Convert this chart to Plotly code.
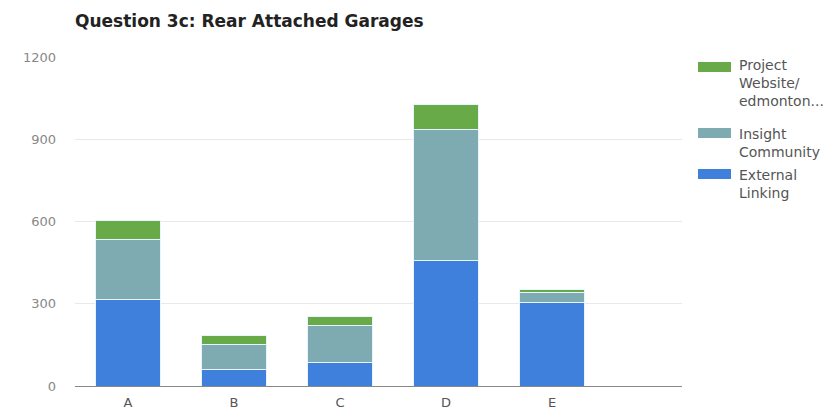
import plotly.graph_objects as go

categories = ["A", "B", "C", "D", "E"]
external_linking = [317, 61, 86, 458, 305]
insight_community = [219, 92, 134, 478, 35]
project_website = [69, 30, 34, 92, 13]
y_ticks = [0, 300, 600, 900, 1200]

c_ext = "#3f80dd"
c_ins = "#7eaab2"
c_prj = "#67aa47"

W, H = 828, 403  # page body has an 8px margin
L, T, B = 67, 49, 25
PW = 607
R = W - L - PW
PH = H - T - B

fig = go.Figure()
for name, vals, col in [("External Linking", external_linking, c_ext),
                        ("Insight Community", insight_community, c_ins),
                        ("Project Website/edmonton...", project_website, c_prj)]:
    fig.add_trace(go.Bar(x=categories, y=vals, name=name,
                         marker=dict(color=col, line=dict(color="#e8f4ff", width=1)),
                         width=0.62, showlegend=False))

fig.update_layout(
    barmode="stack",
    width=W, height=H,
    margin=dict(l=L, r=R, t=T, b=B, autoexpand=False),
    paper_bgcolor="white", plot_bgcolor="white",
    font=dict(family="DejaVu Sans, sans-serif"),
    title=dict(text="<b>Question 3c: Rear Attached Garages</b>", x=(75 - 8) / W, xanchor="left",
               y=1 - (21 - 8) / H, yanchor="middle", font=dict(size=17, color="#222")),
    xaxis=dict(range=[-0.5, 5.226], showgrid=False, showline=True, linecolor="#888", linewidth=1,
               tickfont=dict(size=13, color="#555"), ticks="", ticklabelstandoff=4,
               automargin=False),
    yaxis=dict(range=[0, 1200], tickvals=y_ticks, showgrid=True, gridcolor="#e8e8e8",
               tickfont=dict(size=13, color="#888"), zeroline=False, ticklabelstandoff=18,
               automargin=False),
)


def xp(X):
    return (X - 75) / PW


def yp(Y):
    return (386 - Y) / PH


swatches = [(c_prj, 67), (c_ins, 133), (c_ext, 174)]
for col, yc in swatches:
    fig.add_shape(type="rect", xref="paper", yref="paper",
                  x0=xp(698), x1=xp(731), y0=yp(yc + 5), y1=yp(yc - 5),
                  fillcolor=col, line=dict(width=0))

legend_lines = [("Project", 65), ("Website/", 83), ("edmonton...", 101),
                ("Insight", 134), ("Community", 152),
                ("External", 175), ("Linking", 193)]
for text, yc in legend_lines:
    fig.add_annotation(xref="paper", yref="paper", x=xp(737), y=yp(yc),
                       xanchor="left", yanchor="middle", align="left", showarrow=False,
                       text=text, font=dict(size=14, color="#555"))

fig.write_html("out.html")
